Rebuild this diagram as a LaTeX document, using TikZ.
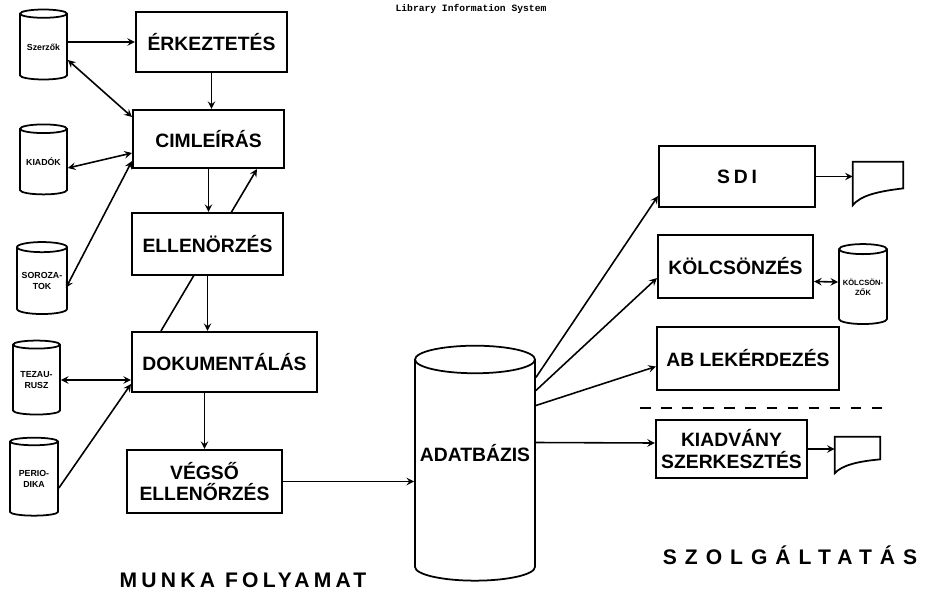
\documentclass[tikz,border=0pt]{standalone}
\usepackage{fontspec}
\setsansfont{Liberation Sans}
\setmonofont{Liberation Mono}
\usetikzlibrary{calc,shapes.geometric,backgrounds}

\begin{document}
\begin{tikzpicture}[x=0.02cm,y=-0.02cm,>=stealth,
  box/.style={draw,line width=1.2pt,fill=white,align=center,inner sep=1pt,
    font=\sffamily\bfseries\fontsize{11}{12}\selectfont},
  cyl/.style={cylinder,shape border rotate=90,aspect=0.25,draw,line width=1pt,
    fill=white,inner sep=0pt,align=center,
    font=\sffamily\bfseries\fontsize{5}{6}\selectfont},
  docshape/.style={inner sep=0pt},
  conn/.style={line width=0.9pt}]
  \useasboundingbox (0,0) rectangle (938,600);
  % heading
  \node[font=\ttfamily\bfseries\fontsize{5.5}{6}\selectfont] (title) at (471,9) {Library Information System};
  % work flow boxes
  \node[box,minimum width=3.02cm,minimum height=1.2cm] (erk) at (211.5,42) {ÉRKEZTETÉS};
  \node[box,minimum width=3.02cm,minimum height=1.16cm] (cim) at (208.5,139) {CIMLEÍRÁS};
  \node[box,minimum width=3.02cm,minimum height=1.24cm] (ell) at (207.5,244) {ELLENÖRZÉS};
  \node[box,minimum width=3.7cm,minimum height=1.2cm] (dok) at (224.5,362) {DOKUMENTÁLÁS};
  \node[box,minimum width=3.1cm,minimum height=1.26cm] (veg) at (204.5,481.5) {VÉGSŐ\\ELLENŐRZÉS};
  % files on the left
  \node[cyl,minimum width=0.94cm,minimum height=1.4cm] (szerz) at (43.5,47) {Szerzők};
  \node[cyl,minimum width=0.94cm,minimum height=1.4cm] (kiado) at (43.5,162) {KIADÓK};
  \node[cyl,minimum width=1.0cm,minimum height=1.44cm] (soroz) at (42,281) {SOROZA-\\TOK};
  \node[cyl,minimum width=0.94cm,minimum height=1.48cm] (tezau) at (36.5,380) {TEZAU-\\RUSZ};
  \node[cyl,minimum width=0.96cm,minimum height=1.56cm] (perio) at (34,479) {PERIO-\\DIKA};
  % data base
  \node[cyl,minimum width=2.4cm,minimum height=4.7cm,
    font=\sffamily\bfseries\fontsize{11}{12}\selectfont] (adat) at (475,470.5) {\raisebox{0.72cm}{ADATBÁZIS}};
  % services
  \node[box,minimum width=3.12cm,minimum height=1.22cm,
    font=\sffamily\bfseries\fontsize{11}{12}\selectfont\addfontfeature{LetterSpace=20}] (sdi) at (737,176.5) {SDI};
  \node[box,minimum width=3.1cm,minimum height=1.26cm] (kol) at (735.5,266.5) {KÖLCSÖNZÉS};
  \node[box,minimum width=3.64cm,minimum height=1.26cm] (ablek) at (748,358.5) {AB LEKÉRDEZÉS};
  \node[box,minimum width=3.02cm,minimum height=1.16cm] (kiad) at (731.5,449) {KIADVÁNY\\SZERKESZTÉS};
  \node[cyl,minimum width=0.96cm,minimum height=1.6cm,
    font=\sffamily\bfseries\fontsize{4.3}{5.5}\selectfont] (kolcs) at (863,287) {KÖLCSÖN-\\ZŐK};
  \node[docshape,minimum width=1.0cm,minimum height=0.86cm] (sdidoc) at (878,183.5) {};
  \node[docshape,minimum width=0.9cm,minimum height=0.72cm] (kiaddoc) at (857.5,455) {};
  \draw[line width=1pt] (sdidoc.north west) -- (sdidoc.north east) -- ($(sdidoc.south east)+(0,-17)$)
    .. controls ($(sdidoc.south)+(0,-14)$) and ($(sdidoc.south west)+(8,-10)$) .. (sdidoc.south west) -- cycle;
  \draw[line width=1pt] (kiaddoc.north west) -- (kiaddoc.north east) -- ($(kiaddoc.south east)+(0,-14)$)
    .. controls ($(kiaddoc.south)+(0,-12)$) and ($(kiaddoc.south west)+(7,-8)$) .. (kiaddoc.south west) -- cycle;
  % connectors
  \draw[conn,->] (szerz.east |- erk.west) -- (erk.west);
  \draw[conn,<->] ($(cim.north west)+(0,8)$) -- ($(szerz.east)+(0,13)$);
  \draw[conn,<->] ($(cim.west)+(0,14)$) -- ($(kiado.east)+(0,6)$);
  \draw[conn,<->] ($(cim.south west)+(0,-8)$) -- ($(soroz.east)+(-2,7)$);
  \draw[conn,->] (erk.south) -- (erk.south |- cim.north);
  \draw[conn,->] (cim.south) -- (cim.south |- ell.north);
  \draw[conn,->] (ell.south) -- (ell.south |- dok.north);
  \draw[conn,->] (veg.north |- dok.south) -- (veg.north);
  \begin{pgfonlayer}{background}
    \draw[conn,->] ($(dok.north west)+(30,0)$) -- ($(cim.south west)+(125,0)$);
  \end{pgfonlayer}
  \draw[conn,->] ($(perio.east)+(0,9)$) -- ($(dok.south west)+(0,-9)$);
  \draw[conn,<->] (tezau.east) -- (tezau.east -| dok.west);
  \draw[conn,->] (veg.east) -- (veg.east -| adat.west);
  \draw[conn,->] ($(adat.east)+(0,-93)$) -- ($(sdi.south west)+(0,-12)$);
  \draw[conn,->] ($(adat.east)+(0,-80)$) -- ($(kol.south west)+(0,-21)$);
  \draw[conn,->] ($(adat.east)+(0,-65)$) -- ($(ablek.west)+(0,8)$);
  \draw[conn,->] ($(adat.east)+(0,-28)$) -- ($(kiad.west)+(0,-6)$);
  \draw[conn,->] (sdi.east) -- (sdi.east -| sdidoc.west);
  \draw[conn,<->] ($(kol.east)+(0,15)$) -- ($(kolcs.west)+(0,-5)$);
  \draw[conn,->] (kiad.east) -- (kiad.east -| kiaddoc.west);
  % divider
  \draw[line width=1.2pt,dashed,dash pattern=on 6pt off 6pt] (640,408) -- (890,408);
  % captions
  \node[font=\sffamily\bfseries\fontsize{12}{14}\selectfont\addfontfeature{LetterSpace=20}] (munka) at (243,580) {MUNKA FOLYAMAT};
  \node[font=\sffamily\bfseries\fontsize{12}{14}\selectfont\addfontfeature{LetterSpace=38}] (szolg) at (790,555) {SZOLGÁLTATÁS};
\end{tikzpicture}
\end{document}
